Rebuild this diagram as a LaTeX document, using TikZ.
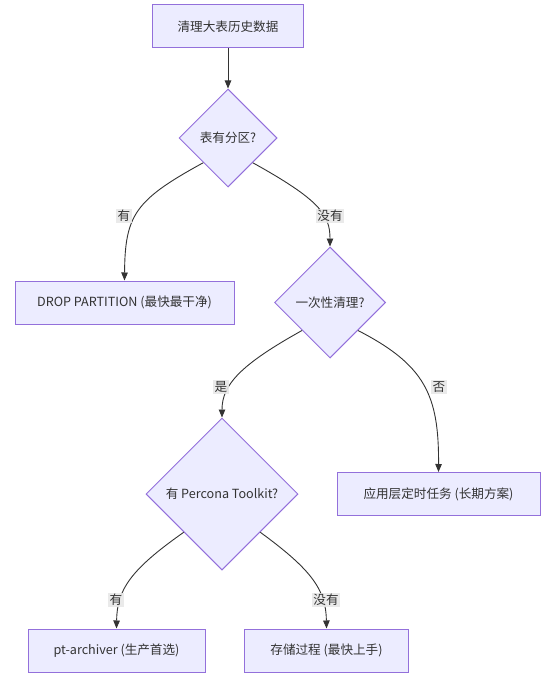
\documentclass[tikz,border=0pt]{standalone}
\usepackage{fontspec}
\setmainfont{Noto Sans CJK SC}
\usepackage{tikz}
\usetikzlibrary{shapes.geometric, arrows.meta}

\definecolor{nodefill}{HTML}{ECECFF}
\definecolor{nodeline}{HTML}{9370DB}
\definecolor{edgeline}{HTML}{333333}
\definecolor{labelbg}{HTML}{E8E8E8}

\tikzset{
    procbox/.style={draw=nodeline, fill=nodefill, line width=1pt, text=edgeline,
        minimum height=43pt, inner sep=0pt, font=\fontsize{12.6}{14}\selectfont},
    choice/.style={diamond, aspect=1, draw=nodeline, fill=nodefill, line width=1pt,
        text=edgeline, inner sep=0pt, font=\fontsize{12.6}{14}\selectfont},
    flow/.style={draw=edgeline, line width=0.9pt, -{Triangle[length=8pt, width=6.5pt]}},
    elabel/.style={fill=labelbg, fill opacity=0.9, text opacity=1, text=edgeline,
        inner sep=1.5pt, font=\fontsize{12.6}{14}\selectfont}
}

\begin{document}
\begin{tikzpicture}[x=1pt, y=-1pt]
    \useasboundingbox (0,0) rectangle (552,685);

    % Boxes and decisions
    \node[procbox, minimum width=151pt] (start) at (228,26.5) {清理大表历史数据};
    \node[choice, minimum width=98pt, minimum height=98pt] (part) at (228,138) {表有分区?};
    \node[procbox, minimum width=219pt] (drop) at (124.5,302.5) {DROP PARTITION (最快最干净)};
    \node[choice, minimum width=111pt, minimum height=111pt] (once) at (330,302.5) {一次性清理?};
    \node[choice, minimum width=152pt, minimum height=152pt] (pt) at (222,494) {有 Percona Toolkit?};
    \node[procbox, minimum width=203pt] (app) at (438.5,494) {应用层定时任务 (长期方案)};
    \node[procbox, minimum width=177pt] (arch) at (116.5,650.5) {pt-archiver (生产首选)};
    \node[procbox, minimum width=164pt] (proc) at (326.5,650.5) {存储过程 (最快上手)};

    % Connectors
    \draw[flow] (start) -- (part);
    \draw[flow] (part.south west) .. controls (135,200) and (125,215) .. (drop.north)
        node[elabel] at (124,216) {有};
    \draw[flow] (part.south east) .. controls (320,200) and (330,215) .. (once.north)
        node[elabel] at (330,216) {没有};
    \draw[flow] (once.south west) .. controls (240,365) and (222,385) .. (pt.north)
        node[elabel] at (221,387) {是};
    \draw[flow] (once.south east) .. controls (425,365) and (439,395) .. (app.north)
        node[elabel] at (439,387) {否};
    \draw[flow] (pt.south west) .. controls (130,570) and (117,590) .. (arch.north)
        node[elabel] at (116,600) {有};
    \draw[flow] (pt.south east) .. controls (312,570) and (326,590) .. (proc.north)
        node[elabel] at (326,600) {没有};
\end{tikzpicture}
\end{document}
